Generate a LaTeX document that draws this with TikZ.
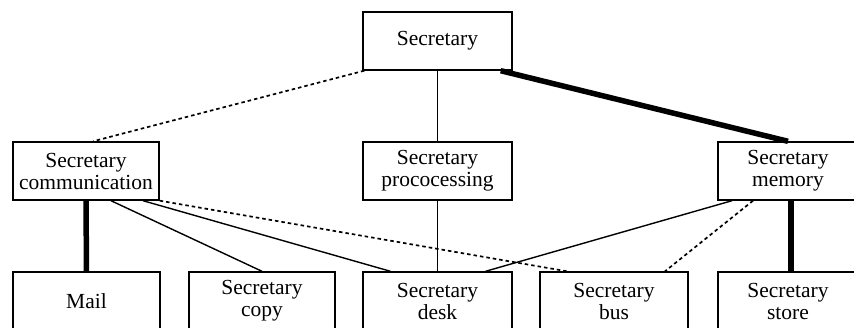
\documentclass[tikz,border=0pt]{standalone}
\usepackage{fontspec}
\setmainfont{Liberation Serif}
\begin{document}
\begin{tikzpicture}[x=1pt,y=-1pt,
  box/.style={draw,line width=1.4pt,inner sep=0pt,align=center,
    font=\fontsize{21.5}{22}\selectfont},
  thin/.style={line width=1.4pt},
  heavy/.style={line width=5.5pt},
  dotted link/.style={line width=1.7pt,dash pattern=on 3.5pt off 3pt}]
\useasboundingbox (0,0) rectangle (854,327);
\clip (0,0) rectangle (854,327);
% top level
\node[box,minimum width=149pt,minimum height=58pt] (sec) at (437.5,41) {Secretary};
% middle level
\node[box,minimum width=146pt,minimum height=58pt] (comm) at (86,171) {Secretary\\communication};
\node[box,minimum width=149pt,minimum height=58pt] (proc) at (437.5,171) {Secretary\\prococessing};
\node[box,minimum width=140pt,minimum height=58pt] (mem) at (788,171) {Secretary\\memory};
% bottom level (runs off the lower edge)
\node[box,minimum width=147pt,minimum height=58pt] (mail) at (86.5,301) {\raisebox{-4pt}{Mail}};
\node[box,minimum width=146pt,minimum height=58pt] (copy) at (262,301) {Secretary\\copy};
\node[box,minimum width=149pt,minimum height=58pt] (desk) at (437.5,301) {Secretary\\desk};
\node[box,minimum width=148pt,minimum height=58pt] (bus) at (614,301) {Secretary\\bus};
\node[box,minimum width=140pt,minimum height=58pt] (store) at (788,301) {Secretary\\store};
% links from the top
\draw[thin] (sec.south) -- (proc.north);
\draw[dotted link] ([xshift=2pt]sec.south west) -- ([xshift=7pt]comm.north);
\draw[heavy] ([xshift=-12pt]sec.south east) -- (mem.north);
% links from communication
\draw[heavy] (comm.south) -- (mail.north);
\draw[thin] ([xshift=25pt]comm.south) -- (copy.north);
\draw[thin] ([xshift=57pt]comm.south) -- ([xshift=-47pt]desk.north);
\draw[dotted link] (comm.south east) -- ([xshift=-47pt]bus.north);
% link from processing
\draw[thin] (proc.south) -- (desk.north);
% links from memory
\draw[thin] ([xshift=-56pt]mem.south) -- ([xshift=48pt]desk.north);
\draw[dotted link] ([xshift=-35pt]mem.south) -- ([xshift=51pt]bus.north);
\draw[heavy] ([xshift=3pt]mem.south) -- ([xshift=3pt]store.north);
\end{tikzpicture}
\end{document}
